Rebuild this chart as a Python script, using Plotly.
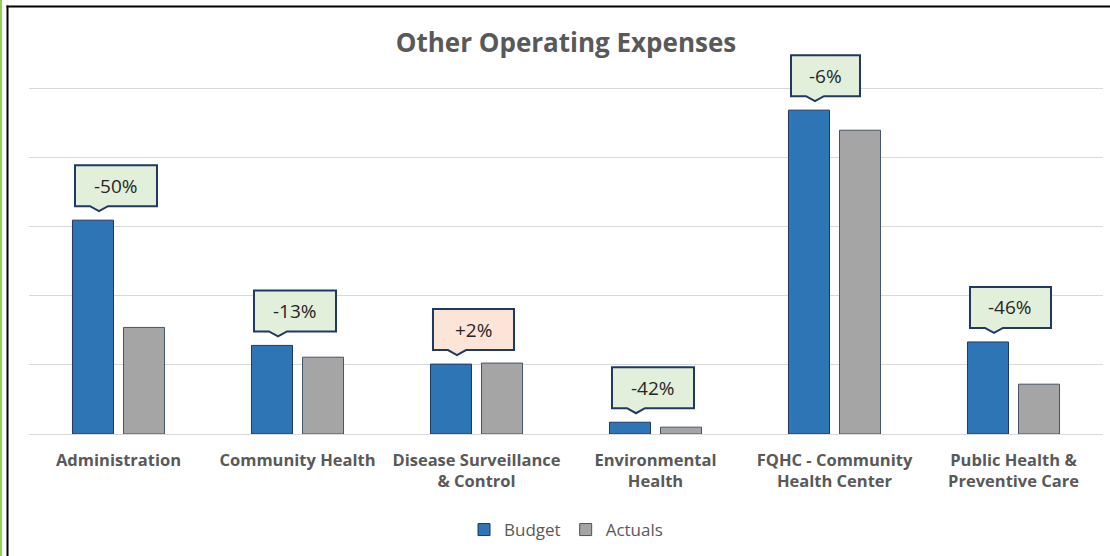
import plotly.graph_objects as go

# ---- data (y in gridline units) ----
categories = ["Administration", "Community Health", "Disease Surveillance<br>& Control",
              "Environmental<br>Health", "FQHC - Community<br>Health Center",
              "Public Health &<br>Preventive Care"]
budget = [3.09, 1.28, 1.01, 0.17, 4.68, 1.33]
actuals = [1.54, 1.11, 1.025, 0.099, 4.39, 0.72]
variance_labels = ["-50%", "-13%", "+2%", "-42%", "-6%", "-46%"]

# ---- style ----
FONT = "Open Sans"
GREY_TEXT = "#595959"
BLUE = "#2E75B6"
GREY_BAR = "#A5A5A5"
NAVY = "#1F3864"
GREEN_FILL = "#E2EFDA"
PEACH_FILL = "#FCE4D6"
BARGAP = 0.43
BARGROUPGAP = 0.196
callout_widths = [82, 82, 81, 82, 69, 81]

W, H = 1110, 556
ML, MR, MT, MB = 29, 7, 33, 122
pw = W - ML - MR
ph = H - MT - MB
GRID_PX = (434 - 88) / 5
YMAX = ph / GRID_PX

def px_to_paper_x(px):
    return (px - ML) / pw

def px_to_paper_y(py):
    return (H - MB - py) / ph

xs = list(range(len(categories)))

fig = go.Figure()
fig.add_trace(go.Bar(x=xs, y=budget, name="Budget",
                     marker=dict(color=BLUE, line=dict(color=NAVY, width=1))))
fig.add_trace(go.Bar(x=xs, y=actuals, name="Actuals",
                     marker=dict(color=GREY_BAR, line=dict(color="#44546A", width=1))))

# callouts above budget bars
offset = (1 - BARGAP) / 4
shapes = []
annotations = []
for i, (v, lab) in enumerate(zip(budget, variance_labels)):
    fill = PEACH_FILL if lab.startswith("+") else GREEN_FILL
    w = callout_widths[i]
    tipx, tipy = 6, 9
    B, T = 14, 55
    L = tipx - 24
    R = L + w
    path = (f"M {L},{B} L {tipx-9},{B} L {tipx},{tipy} L {tipx+9},{B} "
            f"L {R},{B} L {R},{T} L {L},{T} Z")
    shapes.append(dict(type="path", xref="x", yref="y", xsizemode="pixel", ysizemode="pixel",
                       xanchor=i - offset, yanchor=v, path=path,
                       fillcolor=fill, line=dict(color=NAVY, width=2), layer="above"))
    annotations.append(dict(x=i - offset, y=v, xref="x", yref="y", text=lab, showarrow=False,
                            xshift=(L + R) / 2, yshift=(B + T) / 2,
                            font=dict(family=FONT, size=19, color="#262626")))

# frame lines
shapes.append(dict(type="line", xref="paper", yref="paper",
                   x0=px_to_paper_x(1), x1=px_to_paper_x(1), y0=px_to_paper_y(0), y1=px_to_paper_y(H),
                   line=dict(color="#92D050", width=2), layer="above"))
shapes.append(dict(type="line", xref="paper", yref="paper",
                   x0=px_to_paper_x(7.5), x1=px_to_paper_x(7.5), y0=px_to_paper_y(5.5), y1=px_to_paper_y(H),
                   line=dict(color="#000000", width=2), layer="above"))
shapes.append(dict(type="line", xref="paper", yref="paper",
                   x0=px_to_paper_x(6.5), x1=px_to_paper_x(W), y0=px_to_paper_y(6.5), y1=px_to_paper_y(6.5),
                   line=dict(color="#000000", width=2), layer="above"))

fig.update_layout(
    width=W, height=H,
    margin=dict(l=ML, r=MR, t=MT, b=MB, autoexpand=False),
    paper_bgcolor="white", plot_bgcolor="white",
    barmode="group", bargap=BARGAP, bargroupgap=BARGROUPGAP,
    title=dict(text="<b>Other Operating Expenses</b>", x=0.5, xref="paper", xanchor="center",
               y=1 - 43 / H, yanchor="middle", font=dict(family=FONT, size=26, color=GREY_TEXT)),
    xaxis=dict(tickmode="array", tickvals=xs, ticktext=[f"<b>{c}</b>" for c in categories],
               range=[-0.5, len(categories) - 0.5], showgrid=False, zeroline=False,
               showline=True, linecolor="#D9D9D9", linewidth=1,
               ticks="outside", ticklen=11, tickcolor="rgba(0,0,0,0)", automargin=False,
               tickfont=dict(family=FONT, size=16.5, color=GREY_TEXT)),
    yaxis=dict(range=[0, YMAX], tick0=0, dtick=1, showgrid=True, gridcolor="#D9D9D9", gridwidth=1,
               showticklabels=False, zeroline=False, showline=False, ticks="", automargin=False),
    legend=dict(orientation="h", x=0.5, xanchor="center", y=px_to_paper_y(530), yanchor="middle",
                font=dict(family=FONT, size=17, color=GREY_TEXT), traceorder="normal"),
    shapes=shapes, annotations=annotations,
)

fig.write_html("out.html", config={"displayModeBar": False},
               post_script="document.body.style.margin='0';document.body.style.overflow='hidden';")
